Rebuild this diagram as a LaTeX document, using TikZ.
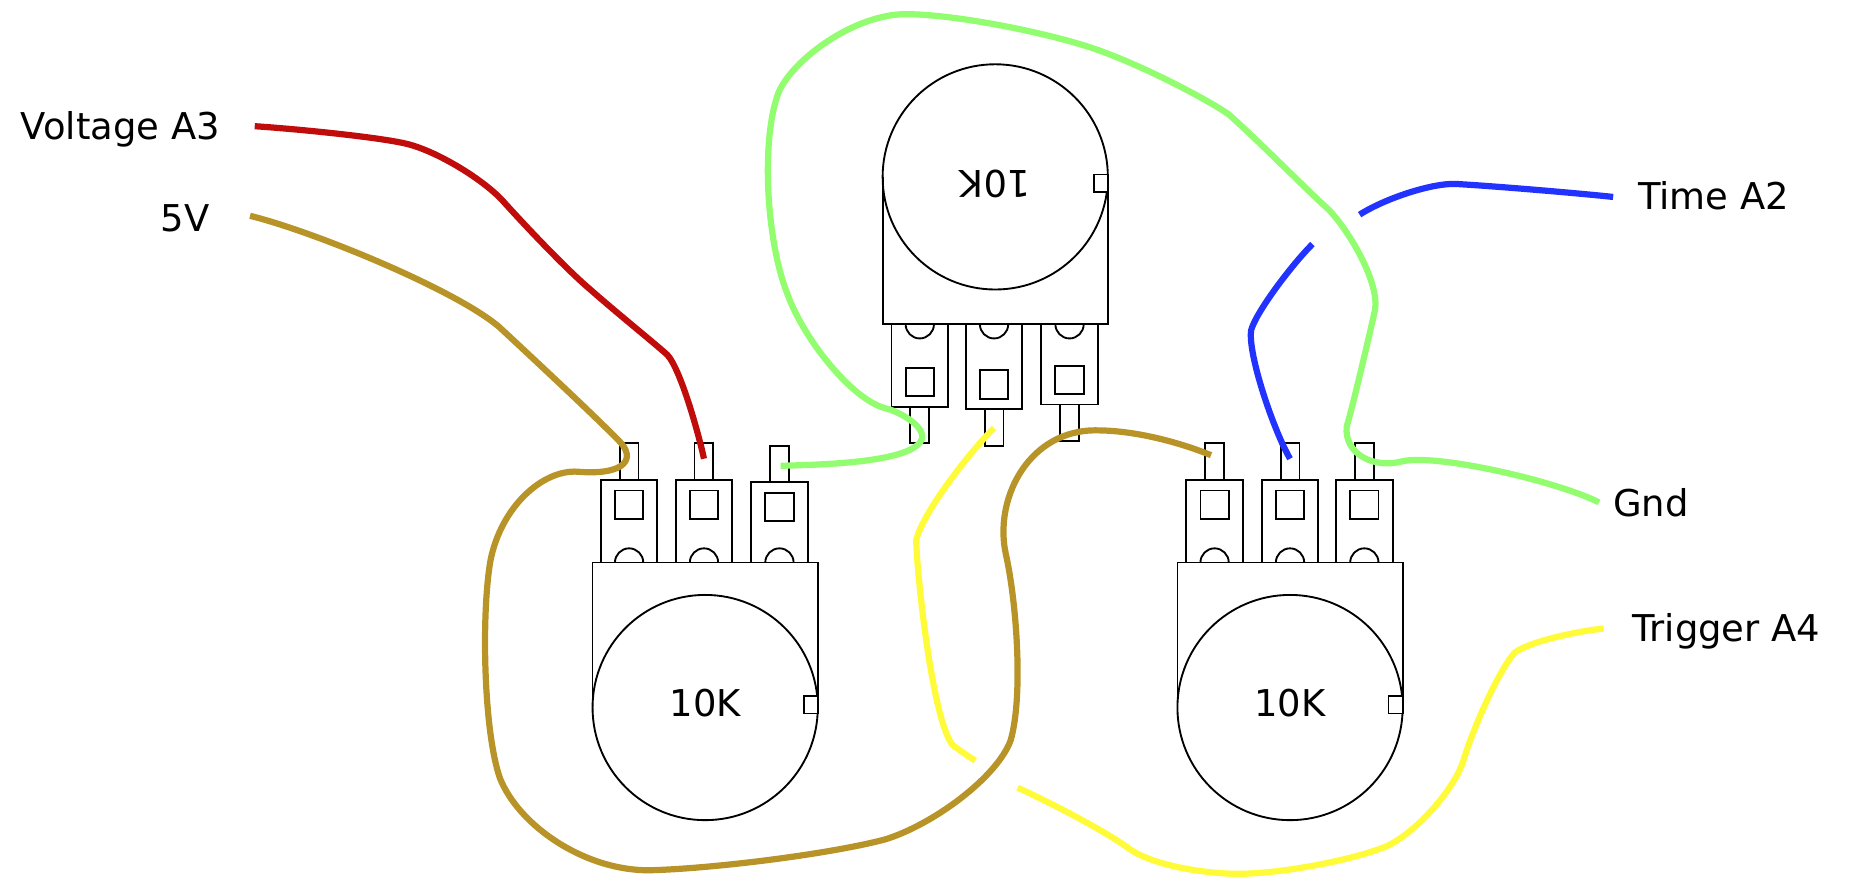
\documentclass[tikz,border=0pt]{standalone}
\usepackage{fontspec}
\setmainfont{DejaVu Sans}
\usepackage{tikz}
\usetikzlibrary{arrows,positioning}

\definecolor{wirered}{RGB}{192,12,10}
\definecolor{wiretan}{RGB}{184,148,40}
\definecolor{wiregreen}{RGB}{146,253,110}
\definecolor{wireblue}{RGB}{34,51,255}
\definecolor{wireyellow}{RGB}{255,251,56}

\tikzset{
  wire/.style={line width=1.5pt,line cap=butt},
  part/.style={draw=black,line width=0.45pt},
  lbl/.style={font=\fontsize{8.9}{10}\selectfont,inner sep=0pt},
}

% pot: centre x, y of body edge, flip, circle offset, square offset, list of lugs
\newcommand{\drawpot}[6]{
\begin{scope}[shift={(#1,#2)},yscale=#3]
\draw[part] (-95.5,#4) -- (-95.5,0) -- (95.5,0) -- (95.5,#4) ;
\draw[part] (0,#4) circle [radius=95.5] ;
\draw[part,fill=white] (83.5,#5) rectangle (95.5,#5+15) ;
\foreach \dx/\len in {#6} {
  \draw[part] (\dx-24,0) rectangle (\dx+24,-\len) ;
  \draw[part] (\dx-12,-\len+9) rectangle (\dx+12,-\len+33) ;
  \draw[part] (\dx-8,-\len) rectangle (\dx+8,-\len-31) ;
  \draw[part] (\dx-12,0) arc [start angle=180,end angle=360,radius=12] ;
}
\end{scope}
}

\begin{document}
\begin{tikzpicture}[x=0.01cm,y=-0.01cm]
\useasboundingbox (0,0) rectangle (1568,750.5);

\drawpot{598}{477}{1}{123}{113}{-64.5/70,-1/70,63/68}
\drawpot{844}{275}{-1}{125}{112}{-64/70,-1/72,63/68}
\drawpot{1094}{477}{1}{123}{113}{-64/70,0/70,63/70}

\node[lbl] (voltage) at (102,110) {Voltage A3} ;
\node[lbl] (five) at (157,185) {5V} ;
\node[lbl] (time) at (1453,166) {Time A2} ;
\node[lbl] (gnd) at (1400,426) {Gnd} ;
\node[lbl] (trigger) at (1464,535) {Trigger A4} ;
\node[lbl] (potleft) at (598,596) {10K} ;
\node[lbl,rotate=180] (pottop) at (844,156) {10K} ;
\node[lbl] (potright) at (1094,596) {10K} ;

\coordinate (redstart) at (216,107) ;
\coordinate (redend) at (597,389) ;
\coordinate (tanstart) at (212,183) ;
\coordinate (tanend) at (1027,386) ;
\coordinate (greenstart) at (662,395) ;
\coordinate (greenend) at (1356,426) ;
\coordinate (bluestart) at (1368,167) ;
\coordinate (blueend) at (1153,182) ;
\coordinate (bluebstart) at (1113,207) ;
\coordinate (bluebend) at (1094,389) ;
\coordinate (yellowstart) at (843,363) ;
\coordinate (yellowend) at (827,645) ;
\coordinate (yellowbstart) at (863,668) ;
\coordinate (yellowbend) at (1360,533) ;

\draw[wire,wiregreen] (greenstart) .. controls (700,394) and (775,392) .. (782,372)
  .. controls (784,360) and (760,348) .. (750,346)
  .. controls (722,338) and (682,288) .. (668,250)
  .. controls (650,205) and (645,120) .. (660,79)
  .. controls (672,50) and (725,12) .. (768,12)
  .. controls (810,12) and (890,28) .. (930,42)
  .. controls (970,56) and (1025,85) .. (1042,97)
  .. controls (1070,122) and (1105,158) .. (1127,178)
  .. controls (1145,197) and (1170,240) .. (1166,263)
  .. controls (1160,290) and (1147,345) .. (1142,362)
  .. controls (1140,385) and (1165,398) .. (1190,391)
  .. controls (1220,385) and (1320,408) .. (greenend) ;

\draw[wire,wireyellow] (yellowstart) .. controls (825,380) and (782,435) .. (777,458)
  .. controls (777,480) and (790,610) .. (808,632)
  .. controls (815,637) and (822,642) .. (yellowend) ;
\draw[wire,wireyellow] (yellowbstart) .. controls (885,678) and (935,703) .. (958,720)
  .. controls (980,735) and (1025,741) .. (1050,741)
  .. controls (1085,741) and (1145,730) .. (1175,718)
  .. controls (1200,707) and (1233,670) .. (1241,645)
  .. controls (1250,615) and (1273,565) .. (1285,553)
  .. controls (1300,543) and (1340,535) .. (yellowbend) ;

\draw[wire,wirered] (redstart) .. controls (260,110) and (325,117) .. (345,122)
  .. controls (370,128) and (410,152) .. (427,171)
  .. controls (445,191) and (480,228) .. (500,245)
  .. controls (525,267) and (555,291) .. (566,301)
  .. controls (577,313) and (592,366) .. (redend) ;

\draw[wire,wiretan] (tanstart) .. controls (265,196) and (385,245) .. (423,277)
  .. controls (450,302) and (510,358) .. (527,376)
  .. controls (540,392) and (525,403) .. (490,400)
  .. controls (460,398) and (425,430) .. (416,475)
  .. controls (408,520) and (410,620) .. (424,660)
  .. controls (440,700) and (495,738) .. (550,738)
  .. controls (600,737) and (700,725) .. (750,712)
  .. controls (790,700) and (845,660) .. (857,628)
  .. controls (868,590) and (862,510) .. (853,470)
  .. controls (843,425) and (870,368) .. (925,365)
  .. controls (960,364) and (1000,375) .. (tanend) ;

\draw[wire,wireblue] (blueend) .. controls (1175,168) and (1215,155) .. (1235,156)
  .. controls (1270,158) and (1340,164) .. (bluestart) ;
\draw[wire,wireblue] (bluebstart) .. controls (1095,225) and (1065,265) .. (1061,280)
  .. controls (1058,300) and (1080,365) .. (bluebend) ;
\end{tikzpicture}
\end{document}
